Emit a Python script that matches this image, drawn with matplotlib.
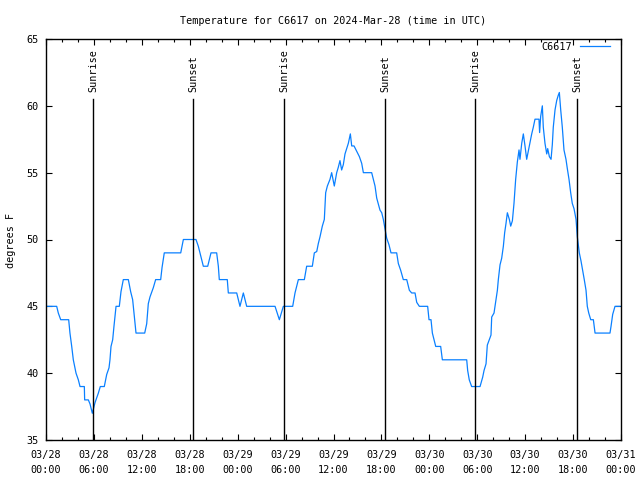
import matplotlib

matplotlib.use("Agg")
import matplotlib.pyplot as plt
from matplotlib.ticker import FixedLocator, MultipleLocator

# hours since 03/28 00:00 UTC, temperature in F
hours = [
    0.08, 1.34, 1.54, 1.84, 2.84, 3.0, 3.22, 3.42, 3.76, 4.05, 4.26, 4.8, 4.84,
    5.3, 5.51, 5.8, 6.14, 6.55, 6.8, 7.3, 7.6, 7.89, 8.01, 8.14, 8.35, 8.51,
    8.77, 9.18, 9.39, 9.68, 10.31, 10.6, 10.85, 11.02, 11.27, 12.36, 12.61,
    12.81, 13.02, 13.44, 13.73, 14.36, 14.53, 14.81, 16.87, 17.2, 18.78, 19.07,
    19.41, 19.7, 20.25, 20.66, 21.37, 21.58, 21.7, 22.7, 22.83, 23.88, 24.29,
    24.71, 25.13, 28.68, 29.22, 29.72, 30.89, 31.18, 31.6, 32.35, 32.64, 33.35,
    33.6, 33.9, 34.1, 34.31, 34.6, 34.85, 35.02, 35.23, 35.56, 35.77, 36.1,
    36.4, 36.6, 36.81, 37.02, 37.23, 37.44, 37.65, 37.86, 38.11, 38.28, 38.57,
    38.9, 39.24, 39.53, 39.74, 40.78, 40.99, 41.2, 41.41, 41.82, 42.04, 42.24,
    42.45, 42.66, 42.95, 43.2, 43.91, 44.12, 44.41, 44.74, 45.17, 45.5, 45.79,
    46.21, 46.42, 46.75, 47.79, 47.96, 48.21, 48.38, 48.59, 48.8, 49.42, 49.63,
    52.68, 52.8, 53.0, 53.3, 54.35, 54.68, 54.85, 55.1, 55.26, 55.72, 55.81,
    56.1, 56.35, 56.52, 56.64, 56.85, 57.06, 57.27, 57.43, 57.6, 57.77, 58.02,
    58.19, 58.4, 58.6, 58.81, 59.02, 59.23, 59.35, 59.57, 59.77, 59.98, 60.19,
    60.39, 60.6, 60.82, 61.02, 61.23, 61.73, 61.81, 61.94, 62.15, 62.27, 62.48,
    62.7, 62.82, 63.03, 63.24, 63.4, 63.52, 63.74, 63.95, 64.15, 64.28, 64.45,
    64.65, 64.86, 65.11, 65.28, 65.49, 65.7, 65.9, 66.12, 66.37, 66.53, 66.78,
    66.99, 67.2, 67.4, 67.62, 67.78, 67.96, 68.21, 68.54, 68.75, 70.62, 70.75,
    70.96, 71.25, 71.88,
]
temps = [
    45, 45, 44.5, 44, 44, 43, 42, 41, 40, 39.5, 39, 39, 38,
    38, 37.7, 37, 37.8, 38.5, 39, 39, 39.9, 40.4, 41, 42, 42.5, 43.5,
    45, 45, 46.1, 47, 47, 46.1, 45.5, 44.5, 43, 43, 43.7,
    45.2, 45.7, 46.4, 47, 47, 47.9, 49, 49, 50, 50, 49.5,
    48.7, 48, 48, 49, 49, 48, 47, 47, 46, 46, 45,
    46, 45, 45, 44, 45, 45, 46, 47, 47, 48, 48,
    49, 49.1, 49.7, 50.2, 51, 51.5, 53.5, 54, 54.5, 55, 54,
    55, 55.4, 55.9, 55.2, 55.6, 56.4, 56.8, 57.2, 57.9, 57, 57,
    56.6, 56.2, 55.7, 55, 55, 54.5, 54, 53.1, 52.2, 52, 51.5,
    50.8, 50.1, 49.6, 49, 49, 48.2, 47.7, 47, 47, 46.2, 46,
    46, 45.3, 45, 45, 44, 44, 43, 42.5, 42, 42, 41,
    41, 40.2, 39.5, 39, 39, 39.7, 40.2, 40.7, 42.1, 42.85, 44.2,
    44.5, 45.5, 46.2, 47, 48.1, 48.6, 49.5, 50.5, 51.2, 52, 51.5,
    51, 51.4, 52.7, 54.5, 55.8, 56.7, 56, 57.2, 57.9, 57, 56,
    56.6, 57.2, 57.9, 58.4, 59, 59, 58, 59.2, 60, 58.4, 57.2,
    56.4, 56.8, 56.2, 56, 57.1, 58.4, 59.7, 60.4, 60.8, 61, 59.7,
    58.4, 56.7, 56, 55.3, 54.5, 53.5, 52.7, 52.3, 51.5, 50.2, 49,
    48.4, 47.7, 47, 46.2, 45, 44.5, 44, 44, 43, 43, 43.5,
    44.4, 45, 45,
]

sunrise_hours = [5.93, 29.84, 53.76]
sunset_hours = [18.45, 42.49, 66.53]

tick_hours = [0, 6, 12, 18, 24, 30, 36, 42, 48, 54, 60, 66, 72]
tick_labels = [
    "03/28\n00:00", "03/28\n06:00", "03/28\n12:00", "03/28\n18:00",
    "03/29\n00:00", "03/29\n06:00", "03/29\n12:00", "03/29\n18:00",
    "03/30\n00:00", "03/30\n06:00", "03/30\n12:00", "03/30\n18:00",
    "03/31\n00:00",
]

plt.rcParams["font.family"] = ["DejaVu Sans Mono"]
plt.rcParams["font.size"] = 7.3

fig = plt.figure(figsize=(6.4, 4.8), dpi=100)
ax = fig.add_axes([46 / 640, 40 / 480, 575 / 640, 401 / 480])

ax.plot(hours, temps, color="#0a80ff", lw=0.9, label="C6617")

for h in sunrise_hours:
    ax.plot([h, h], [35, 60.5], color="black", lw=1.0)
    ax.text(h, 61.0, "Sunrise", rotation=90, ha="center", va="bottom")
for h in sunset_hours:
    ax.plot([h, h], [35, 60.5], color="black", lw=1.0)
    ax.text(h, 61.0, "Sunset", rotation=90, ha="center", va="bottom")

ax.set_xlim(0, 72)
ax.set_ylim(35, 65)
ax.xaxis.set_major_locator(FixedLocator(tick_hours))
ax.set_xticklabels(tick_labels, linespacing=1.6)
ax.xaxis.set_minor_locator(MultipleLocator(2))
ax.yaxis.set_major_locator(MultipleLocator(5))

ax.tick_params(which="both", direction="in", top=True, right=True, width=0.8)
ax.tick_params(which="major", length=4.5)
ax.tick_params(which="minor", length=2.2)
ax.tick_params(axis="x", which="major", pad=7.5)
ax.tick_params(axis="y", which="major", pad=5)
for sp in ax.spines.values():
    sp.set_linewidth(1.0)

ax.set_title("Temperature for C6617 on 2024-Mar-28 (time in UTC)", fontsize=7.3, pad=11)
fig.text(11 / 640, 0.5, "degrees F", rotation=90, ha="center", va="center")

ax.legend(loc="upper right", bbox_to_anchor=(1 - 11 / 575, 1 - 3 / 401),
          frameon=False, markerfirst=False, handlelength=3.0,
          handletextpad=0.7, borderpad=0, borderaxespad=0)

fig.savefig("out.png", dpi=100)
